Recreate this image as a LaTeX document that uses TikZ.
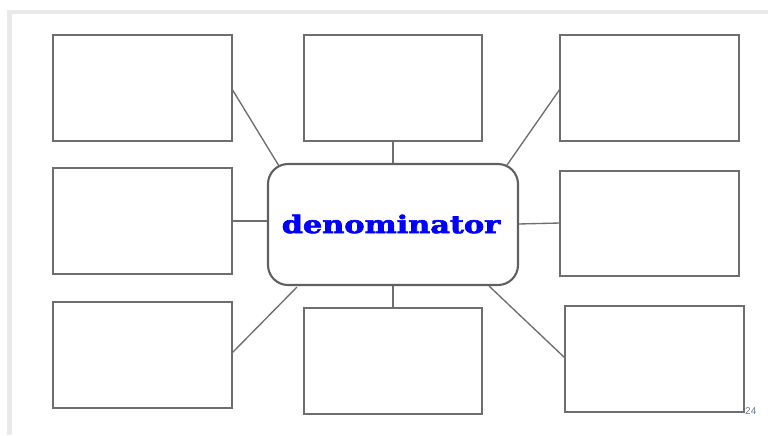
\documentclass[tikz,border=0pt]{standalone}
\usepackage{fontspec}
\usepackage{graphicx}
\newfontfamily\slabfont{DejaVu Serif}[BoldFeatures={FakeBold=2.4}]
\newfontfamily\pagefont{Liberation Sans}
\definecolor{frame}{HTML}{E9E9E9}
\definecolor{boxline}{HTML}{6E6E6E}
\definecolor{hubline}{HTML}{606060}
\definecolor{numcol}{HTML}{6A7F9A}
\begin{document}
\begin{tikzpicture}[x=0.03cm,y=-0.03cm,
  leaf/.style={draw=boxline,line width=1.3pt,fill=white},
  spoke/.style={draw=boxline,line width=1.15pt},
  hub/.style={draw=hubline,line width=1.8pt,fill=white,rounded corners=0.6cm}]
  % page and slide frame
  \fill[white] (0,0) rectangle (768,435);
  \useasboundingbox (0,0) rectangle (768,435);
  \fill[frame] (7,10) rectangle (768,13.5);
  \fill[frame] (7,10) rectangle (12,435);

  % connectors first, boxes drawn over their ends
  \coordinate (tl) at (232,89);   \coordinate (tlh) at (279,166);
  \coordinate (tc) at (393,141);  \coordinate (tch) at (393,164);
  \coordinate (tr) at (560,89);   \coordinate (trh) at (507,165);
  \coordinate (ml) at (232,221);  \coordinate (mlh) at (268,221);
  \coordinate (mr) at (560,223);  \coordinate (mrh) at (518,224);
  \coordinate (bl) at (232,353);  \coordinate (blh) at (297,287);
  \coordinate (bc) at (393,308);  \coordinate (bch) at (393,285);
  \coordinate (br) at (565,358);  \coordinate (brh) at (489,286);
  \foreach \a/\b in {tl/tlh,tc/tch,tr/trh,ml/mlh,mr/mrh,bl/blh,bc/bch,br/brh}
    \draw[spoke] (\a) -- (\b);

  % outer boxes
  \draw[leaf] (53,35) rectangle (232,141);
  \draw[leaf] (304,35) rectangle (482,141);
  \draw[leaf] (560,35) rectangle (739,141);
  \draw[leaf] (53,168) rectangle (232,274);
  \draw[leaf] (560,171) rectangle (739,276);
  \draw[leaf] (53,302) rectangle (232,408);
  \draw[leaf] (304,308) rectangle (482,414);
  \draw[leaf] (565,306) rectangle (744,412);

  % central term
  \draw[hub] (268,164) rectangle (518,285);
  \node (term) at (391,224) {\scalebox{1.245}[1]{\slabfont\bfseries\fontsize{20.8}{24}\selectfont\color{blue}denominator}};

  \node[anchor=south west,inner sep=0pt] (pg) at (745,414.5) {\pagefont\fontsize{8.5}{9}\selectfont\color{numcol}24};
\end{tikzpicture}
\end{document}
